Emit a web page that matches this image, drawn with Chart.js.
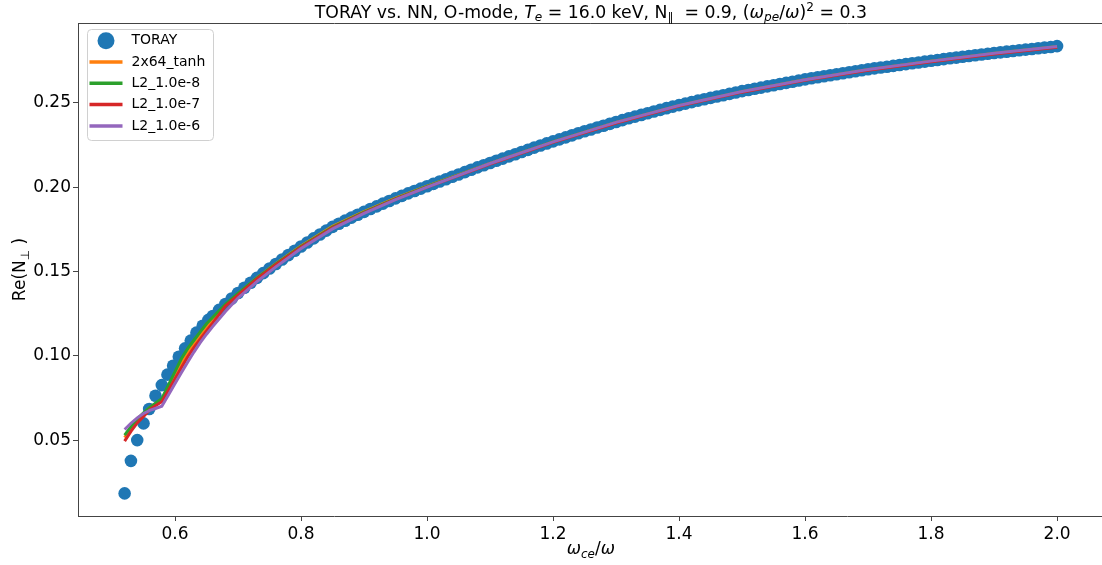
<!DOCTYPE html>
<html lang="en">
<head>
<meta charset="UTF-8">
<title>TORAY vs. NN</title>
<script src="https://cdn.jsdelivr.net/npm/chart.js"></script>
<style>
    html, body { margin: 0; padding: 0; background: #fff; overflow: hidden; }
    #wrap { width: 1110px; height: 565px; }
</style>
</head>
<body>
<div id="wrap"><canvas id="chart" width="1110" height="565"></canvas></div>
<script>
// TORAY reference points
const torayX = [
    0.520, 0.530, 0.540, 0.550, 0.559, 0.569, 0.579, 0.588, 0.597, 0.606,
    0.616, 0.625, 0.634, 0.644, 0.653,
    0.66, 0.67, 0.68, 0.69, 0.70, 0.71, 0.72, 0.73, 0.74, 0.75,
    0.76, 0.77, 0.78, 0.79, 0.80, 0.81, 0.82, 0.83, 0.84, 0.85,
    0.86, 0.87, 0.88, 0.89, 0.90, 0.91, 0.92, 0.93, 0.94, 0.95,
    0.96, 0.97, 0.98, 0.99, 1.00, 1.01, 1.02, 1.03, 1.04, 1.05,
    1.06, 1.07, 1.08, 1.09, 1.10, 1.11, 1.12, 1.13, 1.14, 1.15,
    1.16, 1.17, 1.18, 1.19, 1.20, 1.21, 1.22, 1.23, 1.24, 1.25,
    1.26, 1.27, 1.28, 1.29, 1.30, 1.31, 1.32, 1.33, 1.34, 1.35,
    1.36, 1.37, 1.38, 1.39, 1.40, 1.41, 1.42, 1.43, 1.44, 1.45,
    1.46, 1.47, 1.48, 1.49, 1.50, 1.51, 1.52, 1.53, 1.54, 1.55,
    1.56, 1.57, 1.58, 1.59, 1.60, 1.61, 1.62, 1.63, 1.64, 1.65,
    1.66, 1.67, 1.68, 1.69, 1.70, 1.71, 1.72, 1.73, 1.74, 1.75,
    1.76, 1.77, 1.78, 1.79, 1.80, 1.81, 1.82, 1.83, 1.84, 1.85,
    1.86, 1.87, 1.88, 1.89, 1.90, 1.91, 1.92, 1.93, 1.94, 1.95,
    1.96, 1.97, 1.98, 1.99, 2.00
];
const torayY = [
    0.0184, 0.0377, 0.0500, 0.0599, 0.0684, 0.0763, 0.0826, 0.0888, 0.0941, 0.0994,
    0.1044, 0.1090, 0.1137, 0.1178, 0.1213,
    0.1236, 0.1272, 0.1307, 0.1340, 0.1372, 0.1403, 0.1433, 0.1462, 0.1490, 0.1517,
    0.1544, 0.1571, 0.1597, 0.1623, 0.1648, 0.1672, 0.1696, 0.1719, 0.1742, 0.1764,
    0.1783, 0.1801, 0.1819, 0.1836, 0.1853, 0.1870, 0.1886, 0.1902, 0.1918, 0.1933,
    0.1948, 0.1963, 0.1977, 0.1991, 0.2005, 0.2019, 0.2033, 0.2047, 0.2061, 0.2075,
    0.2089, 0.2103, 0.2117, 0.2130, 0.2143, 0.2156, 0.2169, 0.2182, 0.2195, 0.2208,
    0.2221, 0.2234, 0.2247, 0.2259, 0.2271, 0.2283, 0.2295, 0.2307, 0.2319, 0.2331,
    0.2342, 0.2353, 0.2364, 0.2375, 0.2386, 0.2397, 0.2408, 0.2418, 0.2428, 0.2438,
    0.2448, 0.2458, 0.2468, 0.2477, 0.2486, 0.2495, 0.2504, 0.2513, 0.2521, 0.2529,
    0.2537, 0.2545, 0.2553, 0.2561, 0.2569, 0.2576, 0.2583, 0.2590, 0.2597, 0.2604,
    0.2611, 0.2618, 0.2625, 0.2632, 0.2639, 0.2645, 0.2651, 0.2657, 0.2663, 0.2669,
    0.2675, 0.2681, 0.2687, 0.2693, 0.2699, 0.2704, 0.2709, 0.2714, 0.2719, 0.2724,
    0.2729, 0.2734, 0.2739, 0.2744, 0.2749, 0.2754, 0.2759, 0.2764, 0.2768, 0.2773,
    0.2777, 0.2782, 0.2786, 0.2791, 0.2795, 0.2799, 0.2803, 0.2807, 0.2811, 0.2815,
    0.2819, 0.2823, 0.2827, 0.2831, 0.2836
];

// NN predictions
const nnX = [0.52, 0.53, 0.54, 0.55, 0.56, 0.57, 0.579, 0.59, 0.60, 0.61, 0.62, 0.63, 0.64, 0.65, 0.66,
             0.68, 0.70, 0.73, 0.76, 0.80, 0.85, 0.90, 0.95, 1.00, 1.10, 1.20, 1.30, 1.40, 1.50,
             1.60, 1.70, 1.80, 1.90, 2.00];
const tanh2x64 = [0.0515, 0.0570, 0.0618, 0.0658, 0.0692, 0.0718, 0.0740, 0.0815, 0.0883, 0.0951, 0.1017, 0.1067, 0.1117, 0.1167, 0.1212,
                  0.1300, 0.1367, 0.1462, 0.1546, 0.1651, 0.1767, 0.1855, 0.1934, 0.2005, 0.2140, 0.2268, 0.2383, 0.2483, 0.2566,
                  0.2636, 0.2696, 0.2746, 0.2792, 0.2832];
const l2e8 = [0.0530, 0.0580, 0.0625, 0.0662, 0.0694, 0.0722, 0.0746, 0.0830, 0.0906, 0.0982, 0.1042, 0.1092, 0.1142, 0.1190, 0.1228,
              0.1305, 0.1370, 0.1462, 0.1544, 0.1648, 0.1763, 0.1852, 0.1932, 0.2004, 0.2141, 0.2269, 0.2384, 0.2484, 0.2567,
              0.2637, 0.2697, 0.2747, 0.2793, 0.2833];
const l2e7 = [0.0494, 0.0552, 0.0602, 0.0640, 0.0680, 0.0706, 0.0728, 0.0799, 0.0864, 0.0929, 0.0993, 0.1048, 0.1098, 0.1148, 0.1195,
              0.1295, 0.1360, 0.1455, 0.1540, 0.1643, 0.1759, 0.1848, 0.1928, 0.2000, 0.2137, 0.2265, 0.2380, 0.2480, 0.2563,
              0.2633, 0.2693, 0.2743, 0.2789, 0.2829];
const l2e6 = [0.0563, 0.0600, 0.0632, 0.0658, 0.0676, 0.0689, 0.0701, 0.0770, 0.0836, 0.0900, 0.0962, 0.1022, 0.1078, 0.1128, 0.1174,
              0.1262, 0.1342, 0.1440, 0.1527, 0.1636, 0.1752, 0.1844, 0.1926, 0.2000, 0.2140, 0.2268, 0.2384, 0.2484, 0.2567,
              0.2637, 0.2697, 0.2747, 0.2793, 0.2833];

const xTicks = [0.6, 0.8, 1.0, 1.2, 1.4, 1.6, 1.8, 2.0];
const yTicks = [0.05, 0.10, 0.15, 0.20, 0.25];

const FONT = '"DejaVu Sans", sans-serif';
const AXIS = '#444';

const pts = (xs, ys) => xs.map((x, i) => ({x: x, y: ys[i]}));

// text with sub/superscripts: [text, italic, shift] shift 1 = sub, -1 = sup
function partFont(p, size) {
    const s = p[2] ? size * 0.7 : size;
    return (p[1] ? 'italic ' : '') + s + 'px ' + FONT;
}
function richWidth(ctx, parts, size) {
    let w = 0;
    parts.forEach(p => { ctx.font = partFont(p, size); w += ctx.measureText(p[0]).width; });
    return w;
}
function drawRich(ctx, parts, cx, baseY, size) {
    let x = cx - richWidth(ctx, parts, size) / 2;
    ctx.textAlign = 'left';
    ctx.textBaseline = 'alphabetic';
    ctx.fillStyle = '#000';
    parts.forEach(p => {
        ctx.font = partFont(p, size);
        const dy = p[2] === 1 ? size * 0.22 : (p[2] === -1 ? -size * 0.38 : 0);
        ctx.fillText(p[0], x, baseY + dy);
        x += ctx.measureText(p[0]).width;
    });
}

const titleParts = [['TORAY vs. NN, O-mode, ', 0, 0], ['T', 1, 0], ['e', 1, 1], [' = 16.0 keV, N', 0, 0], ['\u2225', 0, 1],
                    ['  = 0.9, (', 0, 0], ['\u03c9', 1, 0], ['pe', 1, 1], ['/', 0, 0], ['\u03c9', 1, 0], [')', 0, 0],
                    ['2', 0, -1], [' = 0.3', 0, 0]];
const xLabelParts = [['\u03c9', 1, 0], ['ce', 1, 1], ['/', 0, 0], ['\u03c9', 1, 0]];
const yLabelParts = [['Re(N', 0, 0], ['\u22a5', 0, 1], [' )', 0, 0]];

const decor = {
    id: 'decor',
    afterDraw(chart) {
        const ctx = chart.ctx;
        const a = chart.chartArea;
        ctx.save();
        // top and right spines
        ctx.strokeStyle = AXIS;
        ctx.lineWidth = 1;
        ctx.beginPath();
        ctx.moveTo(a.left, a.top + 0.5);
        ctx.lineTo(a.right, a.top + 0.5);
        ctx.lineTo(a.right, a.bottom);
        ctx.stroke();

        const cx = (a.left + a.right) / 2;
        drawRich(ctx, titleParts, cx, 17.5, 17.3);
        drawRich(ctx, xLabelParts, cx, 554, 17);
        ctx.save();
        ctx.translate(25, (a.top + a.bottom) / 2);
        ctx.rotate(-Math.PI / 2);
        drawRich(ctx, yLabelParts, 0, 0, 17);
        ctx.restore();

        // legend
        const lx = 87, ly = 29, lw = 126, lh = 111;
        ctx.fillStyle = 'rgba(255,255,255,0.8)';
        ctx.strokeStyle = '#d0d0d0';
        ctx.beginPath();
        ctx.roundRect(lx + 0.5, ly + 0.5, lw, lh, 4);
        ctx.fill();
        ctx.stroke();
        const ds = chart.data.datasets;
        ds.forEach((d, i) => {
            const y = 40.7 + i * 21.3;
            if (i === 0) {
                ctx.fillStyle = d.backgroundColor;
                ctx.beginPath();
                ctx.arc(106, y, 8.5, 0, Math.PI * 2);
                ctx.fill();
            } else {
                ctx.strokeStyle = d.borderColor;
                ctx.lineWidth = 3.5;
                ctx.beginPath();
                ctx.moveTo(89.5, y);
                ctx.lineTo(122.5, y);
                ctx.stroke();
            }
            ctx.fillStyle = '#000';
            ctx.font = '14px ' + FONT;
            ctx.textAlign = 'left';
            ctx.textBaseline = 'middle';
            ctx.fillText(d.label, 131.5, y);
        });
        ctx.restore();
    }
};

const tickFont = {family: FONT, size: 17};

new Chart(document.getElementById('chart'), {
    type: 'scatter',
    data: {
        datasets: [
            { label: 'TORAY', data: pts(torayX, torayY), backgroundColor: '#1f77b4', pointRadius: 6.3,
              pointHoverRadius: 6.3, pointBorderWidth: 0, borderWidth: 0, showLine: false, order: 5 },
            { label: '2x64_tanh', data: pts(nnX, tanh2x64), borderColor: '#ff7f0e', backgroundColor: '#ff7f0e',
              borderWidth: 3, pointRadius: 0, showLine: true, tension: 0, order: 4 },
            { label: 'L2_1.0e-8', data: pts(nnX, l2e8), borderColor: '#2ca02c', backgroundColor: '#2ca02c',
              borderWidth: 3, pointRadius: 0, showLine: true, tension: 0, order: 3 },
            { label: 'L2_1.0e-7', data: pts(nnX, l2e7), borderColor: '#d62728', backgroundColor: '#d62728',
              borderWidth: 3, pointRadius: 0, showLine: true, tension: 0, order: 2 },
            { label: 'L2_1.0e-6', data: pts(nnX, l2e6), borderColor: '#9467bd', backgroundColor: '#9467bd',
              borderWidth: 3, pointRadius: 0, showLine: true, tension: 0, order: 1 }
        ]
    },
    options: {
        responsive: false,
        animation: false,
        events: [],
        layout: { padding: { top: 23, right: 3, left: 0, bottom: 0 } },
        plugins: {
            legend: { display: false },
            tooltip: { enabled: false },
            title: { display: false }
        },
        scales: {
            x: {
                type: 'linear',
                min: 0.446,
                max: 2.074,
                afterFit: s => { s.height = 49; },
                afterBuildTicks: s => { s.ticks = xTicks.map(v => ({value: v})); },
                ticks: { callback: v => v.toFixed(1), font: tickFont, color: '#000', padding: 3, maxRotation: 0 },
                grid: { drawOnChartArea: false, tickLength: 5, color: AXIS },
                border: { color: AXIS, width: 1 }
            },
            y: {
                type: 'linear',
                min: 0.005,
                max: 0.2973,
                afterFit: s => { s.width = 78; },
                afterBuildTicks: s => { s.ticks = yTicks.map(v => ({value: v})); },
                ticks: { callback: v => v.toFixed(2), font: tickFont, color: '#000', padding: 2 },
                grid: { drawOnChartArea: false, tickLength: 5, color: AXIS },
                border: { color: AXIS, width: 1 }
            }
        }
    },
    plugins: [decor]
});
</script>
</body>
</html>
